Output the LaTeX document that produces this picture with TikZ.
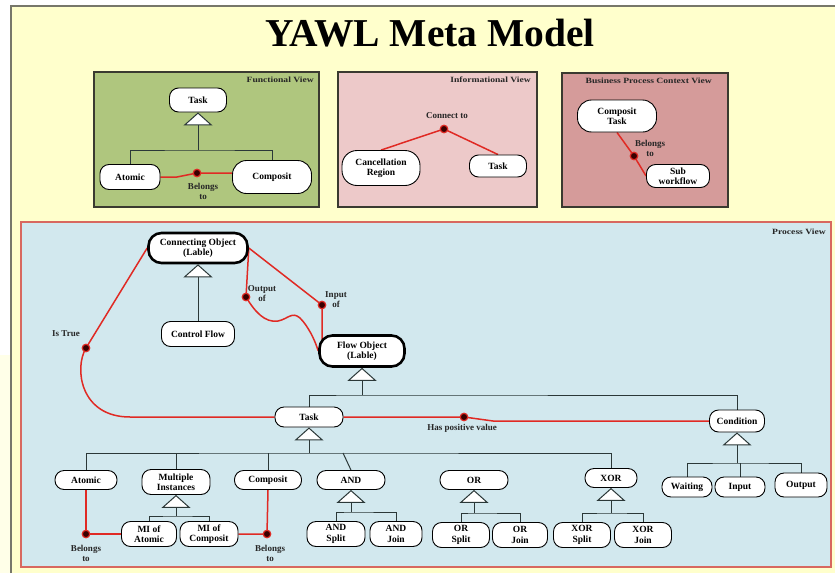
\documentclass[tikz,border=0pt]{standalone}
\usepackage{fontspec}
\setmainfont{Liberation Serif}
\newfontfamily\widefont{Liberation Serif}[FakeStretch=1.2]
\usetikzlibrary{arrows.meta}
\pgfdeclarelayer{back}
\pgfdeclarelayer{mid}
\pgfsetlayers{back,mid,main}
\definecolor{bgyellow}{HTML}{FFFFCC}
\definecolor{framegray}{HTML}{77776A}
\definecolor{fgreen}{HTML}{AFC67E}
\definecolor{ipink}{HTML}{EDC9C9}
\definecolor{brose}{HTML}{D59B9A}
\definecolor{pblue}{HTML}{D2E8EE}
\definecolor{pborder}{HTML}{D8685F}
\definecolor{relred}{HTML}{E02A24}
\definecolor{dotdark}{HTML}{3A0000}
\definecolor{linegray}{HTML}{2B3838}
\definecolor{boxline}{HTML}{3A3A30}
\begin{document}
\begin{tikzpicture}[x=1pt,y=-1pt,
  sz/.style n args={2}{minimum width=#1pt,minimum height=#2pt},
  ent/.style={draw=black, fill=white, line width=0.9pt, rounded corners=9pt,
    font=\bfseries\fontsize{9.5}{10.5}\selectfont, align=center, inner sep=1pt},
  bigent/.style={ent, line width=2.6pt, rounded corners=13pt},
  genline/.style={draw=linegray, line width=1pt},
  gen/.style={genline, -{Triangle[fill=white, length=13pt, width=29pt]}},
  rel/.style={draw=relred, line width=1.5pt},
  reldot/.style={circle, fill=dotdark, draw=relred, line width=1.2pt, inner sep=0pt, minimum size=7.5pt},
  lbl/.style={font=\bfseries\fontsize{9}{10}\selectfont, align=center, inner sep=0pt, text=black!85},
  viewtitle/.style={font=\widefont\bfseries\fontsize{8}{9}\selectfont, anchor=north east, inner sep=0pt, text=black!85},
  viewbox/.style={draw=boxline, line width=1.2pt, fill=#1}
]
\useasboundingbox (0,0) rectangle (835,573);

% ---------- backgrounds ----------
\begin{pgfonlayer}{back}
  \fill[white] (0,0) rectangle (835,573);
  \fill[bgyellow!45] (0,355) rectangle (11,573);
  \fill[bgyellow] (11,6) rectangle (835,573);
  \draw[framegray, line width=1.5pt] (11,573) -- (11,6) -- (835,6);
  \draw[viewbox=fgreen] (94,72) rectangle (319,207);
  \draw[viewbox=ipink] (338,72) rectangle (537,207);
  \draw[viewbox=brose] (562,73) rectangle (728,207);
  \draw[draw=pborder, line width=1.3pt, fill=pblue] (21,222) rectangle (831,567);
\end{pgfonlayer}

% ---------- title ----------
\node[font=\bfseries\fontsize{39.5}{41}\selectfont, anchor=base, inner sep=0pt] (title) at (430,46) {YAWL Meta Model};

% ---------- Functional View ----------
\node[viewtitle] (ftitle) at (314,77) {Functional View};
\node[ent, sz={57}{24}] (FTask) at (198,100) {Task};
\node[ent, sz={60}{25}] (FAtomic) at (130,177) {Atomic};
\node[ent, sz={79}{33}, rounded corners=14pt] (FComp) at (272,177) {Composit};
\coordinate (fj) at (198,150);
\node[reldot] (fd) at (197,173) {};
\node[lbl] (fl) at (203,191) {Belongs\\to};

% ---------- Informational View ----------
\node[viewtitle] (ititle) at (531,77) {Informational View};
\node[ent, sz={78}{35}, rounded corners=15pt] (ICR) at (381,168) {Cancellation\\Region};
\node[ent, sz={57}{22}] (ITask) at (498,166) {Task};
\node[reldot] (id) at (444,129) {};
\node[lbl] (il) at (447,116) {Connect to};

% ---------- Business Process Context View ----------
\node[viewtitle] (btitle) at (712,78) {Business Process Context View};
\node[ent, sz={79}{32}, rounded corners=14pt] (BComp) at (617,116) {Composit\\Task};
\node[ent, sz={63}{23}] (BSub) at (678,176) {Sub\\workflow};
\node[reldot] (bd) at (634,156) {};
\node[lbl] (bl) at (650,148) {Belongs\\to};

% ---------- Process View ----------
\node[viewtitle] (ptitle) at (826,229) {Process View};
\node[bigent, sz={99}{30}] (PCO) at (198,248) {Connecting Object\\(Lable)};
\node[ent, sz={73}{25}] (PCF) at (198,334) {Control Flow};
\node[bigent, sz={85}{31}] (PFO) at (362,351) {Flow Object\\(Lable)};
\node[ent, sz={68}{20}] (PTask) at (309,417) {Task};
\node[ent, sz={55}{22}] (PCond) at (737,421) {Condition};

\node[ent, sz={62}{19}] (PAtomic) at (86,480) {Atomic};
\node[ent, sz={68}{25}] (PMI) at (176,482) {Multiple\\Instances};
\node[ent, sz={67}{19}] (PComp) at (268,480) {Composit};
\node[ent, sz={68}{19}] (PAND) at (351,480) {AND};
\node[ent, sz={68}{19}] (POR) at (474,480) {OR};
\node[ent, sz={52}{19}] (PXOR) at (611,478) {XOR};

\node[ent, sz={55}{25}] (PMIA) at (149,534) {MI of\\Atomic};
\node[ent, sz={58}{25}] (PMIC) at (209,534) {MI of\\Composit};
\node[ent, sz={58}{25}] (PANDS) at (336,534) {AND\\Split};
\node[ent, sz={52}{25}] (PANDJ) at (396,534) {AND\\Join};
\node[ent, sz={57}{25}] (PORS) at (461,535) {OR\\Split};
\node[ent, sz={55}{25}] (PORJ) at (520,535) {OR\\Join};
\node[ent, sz={57}{25}] (PXORS) at (582,535) {XOR\\Split};
\node[ent, sz={57}{25}] (PXORJ) at (643,535) {XOR\\Join};

\node[ent, sz={50}{20}] (PWait) at (687,487) {Waiting};
\node[ent, sz={50}{20}] (PInput) at (740,487) {Input};
\node[ent, sz={52}{24}] (POutput) at (801,485) {Output};

\coordinate (pj) at (362,395);
\coordinate (tj) at (309,453);
\coordinate (andtop) at (343,453);
\coordinate (mj) at (176,516);
\coordinate (aj) at (351,512);
\coordinate (oj) at (474,513);
\coordinate (xj) at (611,513);
\coordinate (kj) at (737,463);

\node[reldot] (dIs) at (86,348) {};
\node[lbl, anchor=east] (lIs) at (80,334) {Is True};
\node[reldot] (dOut) at (246,297) {};
\node[lbl] (lOut) at (262,294) {Output\\of};
\node[reldot] (dIn) at (322,305) {};
\node[lbl] (lIn) at (336,300) {Input\\of};
\node[reldot] (dHas) at (464,417) {};
\node[lbl] (lHas) at (462,428) {Has positive value};
\node[reldot] (dBA) at (86,534) {};
\node[lbl] (lBA) at (86,553) {Belongs\\to};
\node[reldot] (dBC) at (267,534) {};
\node[lbl] (lBC) at (270,553) {Belongs\\to};

% ---------- connectors ----------
\begin{pgfonlayer}{mid}
  % functional
  \draw[gen] (fj) -- (FTask.south);
  \draw[genline] (FAtomic.north) |- (fj) -| (FComp.north);
  \draw[rel] (FAtomic.east) -- (177,177) -- (fd.center) -- (FComp.west |- fd.center);
  % informational
  \draw[rel] (ICR.north) -- (id.center) -- (ITask.north);
  % business
  \draw[rel] (BComp.south) -- (bd.center) -- (BSub.west);
  % process: generalisations
  \draw[gen] (PCF.north) -- (PCO.south);
  \draw[gen] (pj) -- (PFO.south);
  \draw[genline] (PTask.north) |- (pj) -| (PCond.north);
  \draw[gen] (tj) -- (PTask.south);
  \draw[genline] (PAtomic.north) |- (tj) -| (PXOR.north);
  \draw[genline] (PMI.north) -- (PMI.north |- tj);
  \draw[genline] (PComp.north) -- (PComp.north |- tj);
  \draw[genline] (PAND.north) -- (andtop);
  \draw[gen] (mj) -- (PMI.south);
  \draw[genline] (PMIA.north) |- (mj) -| (PMIC.north);
  \draw[gen] (aj) -- (PAND.south);
  \draw[genline] (PANDS.north) |- (aj) -| (PANDJ.north);
  \draw[gen] (oj) -- (POR.south);
  \draw[genline] (PORS.north) |- (oj) -| (PORJ.north);
  \draw[gen] (xj) -- (PXOR.south);
  \draw[genline] (PXORS.north) |- (xj) -| (PXORJ.north);
  \draw[gen] (kj) -- (PCond.south);
  \draw[genline] (PWait.north) |- (kj) -| (POutput.north);
  \draw[genline] (PInput.north) -- (PInput.north |- kj);
  % process: relations
  \draw[rel] (PCO.west) -- (dIs.center) .. controls (74,368) and (80,417) .. (130,417) -- (PTask.west);
  \draw[rel] (PCO.east) -- (dOut.center) .. controls (255,312) and (265,323) .. (278,321)
     .. controls (288,319) and (292,311) .. (300,318) .. controls (308,326) and (315,340) .. (PFO.west);
  \draw[rel] (PCO.east) -- (dIn.center) -- (dIn.center |- PFO.west);
  \draw[rel] (PTask.east) -- (dHas.center) -- (493,421) -- (PCond.west);
  \draw[rel] (PAtomic.south) -- (dBA.center) -- (PMIA.west);
  \draw[rel] (PComp.south) -- (dBC.center) -- (PMIC.east);
\end{pgfonlayer}
\end{tikzpicture}
\end{document}
